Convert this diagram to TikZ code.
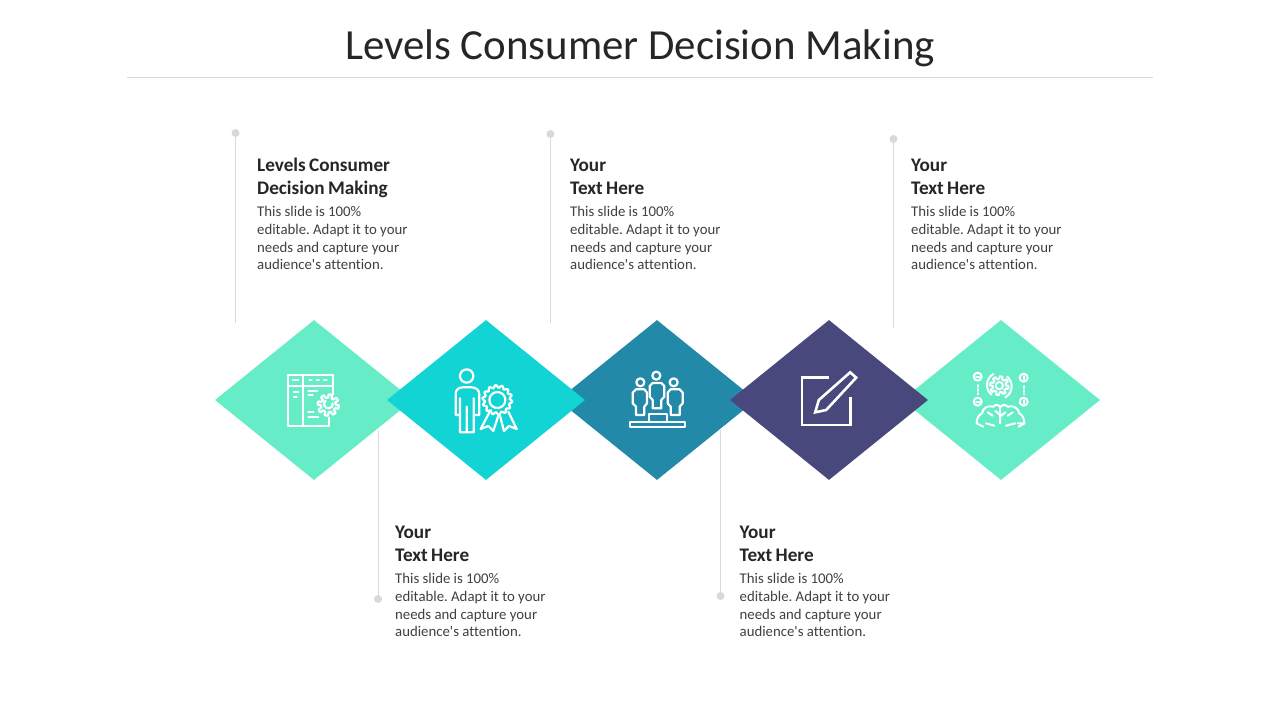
\documentclass[tikz,border=0pt]{standalone}
\usepackage{fontspec}
\setmainfont{Carlito}[Ligatures={TeXOff,CommonOff}]
\usetikzlibrary{shapes.geometric}
\definecolor{mint}{HTML}{66EDC8}
\definecolor{cyanb}{HTML}{12D4D4}
\definecolor{tealb}{HTML}{2389A8}
\definecolor{navyb}{HTML}{48487C}
\definecolor{headc}{HTML}{262626}
\definecolor{bodyc}{HTML}{404040}
\definecolor{linec}{HTML}{D9D9D9}
\newcommand{\blurb}[2]{\frenchspacing{\fontsize{19.2}{23}\selectfont\bfseries\color{headc}\rule{0pt}{14pt}#1\\#2\\[4.3pt]}{\fontsize{14.8}{17.7}\selectfont\color{bodyc}This slide is 100\%\\editable. Adapt it to your\\needs and capture your\\audience's attention.\par}}
\tikzset{
  x=1pt,y=-1pt,
  gem/.style={diamond,fill=#1,draw=none,inner sep=0pt,aspect=1.2375,minimum width=198pt,minimum height=160pt},
  pin/.style={circle,fill=linec,draw=none,inner sep=0pt,minimum size=8pt},
  stem/.style={draw=linec,line width=1pt},
  txt/.style={anchor=north west,align=left,inner sep=0pt,text width=170pt}
}
\begin{document}
\begin{tikzpicture}
\useasboundingbox (0,0) rectangle (1280,720);
\fill[white] (0,0) rectangle (1280,720);
\node[inner sep=0pt,text=headc] (title) at (640,48.5) {\fontsize{42.9}{50}\selectfont Levels Consumer Decision Making};
\coordinate (ruleL) at (127,77.5);
\coordinate (ruleR) at (1153,77.5);
\draw[draw=linec,line width=0.8pt] (ruleL) -- (ruleR);
% connectors
\node[pin] (p1) at (235.5,133) {}; \coordinate (e1) at (235.5,323);
\node[pin] (p2) at (550.5,134) {}; \coordinate (e2) at (550.5,323);
\node[pin] (p3) at (893.5,139) {}; \coordinate (e3) at (893.5,328);
\node[pin] (p4) at (378,599) {}; \coordinate (e4) at (378,430);
\node[pin] (p5) at (720.5,596) {}; \coordinate (e5) at (720.5,430);
\foreach \a/\b in {p1/e1,p2/e2,p3/e3,p4/e4,p5/e5} \draw[stem] (\a) -- (\b);
% diamonds
\node[gem=mint] (d1) at (314,400) {};
\node[gem=tealb] (d3) at (657,400) {};
\node[gem=mint] (d5) at (1001,400) {};
\node[gem=cyanb] (d2) at (486,400) {};
\node[gem=navyb] (d4) at (829,400) {};
% text
\node[txt] (t1) at (257,157.5) {\blurb{Levels Consumer}{Decision Making}};
\node[txt] (t2) at (570,157.5) {\blurb{Your}{Text Here}};
\node[txt] (t3) at (911,157.5) {\blurb{Your}{Text Here}};
\node[txt] (t4) at (395,524.5) {\blurb{Your}{Text Here}};
\node[txt] (t5) at (739.5,524.5) {\blurb{Your}{Text Here}};
% icon 1
\begin{scope}[shift={(270,355)},x=1pt/3,y=-1pt/3,draw=white,line width=2.2pt,line join=round,line cap=round]
\draw (188,118) -- (188,60) -- (55,60) -- (55,213) -- (177,213) -- (177,188);
\draw (100,60) -- (100,213);
\draw (55,93) -- (188,93);
\draw (68,76) -- (85,76) (118,76) -- (125,76) (140,76) -- (147,76) (162,76) -- (170,76);
\draw (72,112) -- (85,112) (72,125) -- (80,125);
\draw (115,108) -- (142,108) (115,120) -- (128,120);
\draw (115,172) -- (130,172) (115,185) -- (145,185);
\draw plot[domain=0:360,samples=145,variable=\t] ({175+(27+5*max(min(3*sin(8*\t),1),-1))*cos(\t)},{150+(27+5*max(min(3*sin(8*\t),1),-1))*sin(\t)}) -- cycle;
\draw (188,145) arc (-10:230:13);
\end{scope}
% icon 2
\begin{scope}[shift={(440,355)},x=1pt/3,y=-1pt/3,draw=white,line width=2.2pt,line join=round,line cap=round]
\draw (80,63) circle (20);
\draw (60,180) -- (47,180) -- (47,118) .. controls (47,105) and (55,97) .. (68,97) -- (94,97) .. controls (108,97) and (118,105) .. (118,118) -- (118,180) -- (101,180) (101,130) -- (101,232) -- (60,232) -- (60,130) (80,155) -- (80,232);
\draw plot[domain=0:360,samples=113,variable=\t] ({172+(41+4*sin(14*\t))*cos(\t)},{135+(41+4*sin(14*\t))*sin(\t)}) -- cycle;
\draw (172,135) circle (24);
\draw (148,172) -- (122,222) -- (145,213) -- (160,228) -- (175,182);
\draw (205,170) -- (230,222) -- (207,213) -- (192,228) -- (180,182);
\end{scope}
% icon 3
\begin{scope}[shift={(612,355)},x=1pt/3,y=-1pt/3,draw=white,line width=2.2pt,line join=round,line cap=round]
\draw (55,200) rectangle (220,216);
\draw (112,200) -- (112,178) -- (165,178) -- (165,200);
\draw (85,82) circle (12);
\draw (133,62) circle (12);
\draw (185,82) circle (12);
\draw (62,113) -- (72,103) -- (97,103) -- (105,113) -- (105,145) -- (97,155) -- (97,180) -- (72,180) -- (72,155) -- (62,145) -- cycle;
\draw (113,93) -- (122,84) -- (148,84) -- (157,93) -- (157,125) -- (148,135) -- (148,160) -- (122,160) -- (122,135) -- (113,125) -- cycle;
\draw (167,113) -- (176,103) -- (203,103) -- (212,113) -- (212,145) -- (203,155) -- (203,180) -- (176,180) -- (176,155) -- (167,145) -- cycle;
\end{scope}
% icon 4
\begin{scope}[shift={(784.5,355)},x=1pt/3,y=-1pt/3,draw=white,line width=2.6pt,line join=miter,line cap=butt]
\draw (133,68) -- (52,68) -- (52,210) -- (198,210) -- (198,125);
\draw (92,172) -- (103,135) -- (197,52) -- (215,68) -- (125,165) -- cycle;
\end{scope}
% icon 5
\begin{scope}[shift={(956,355)},x=1pt/3,y=-1pt/3,draw=white,line width=2pt,line join=round,line cap=round]
\draw plot[domain=0:360,samples=145,variable=\t] ({130+(24+4*max(min(3*sin(8*\t),1),-1))*cos(\t)},{92+(24+4*max(min(3*sin(8*\t),1),-1))*sin(\t)}) -- cycle;
\draw (130,92) circle (11);
\draw (112,57) arc (240:130:38);
\draw (148,127) arc (60:-50:38);
\foreach \cx/\cy in {65/65,65/140,203/68,203/140} \draw (\cx,\cy) circle (12);
\draw (60,65) -- (70,65) (60,140) -- (70,140) (203,63) -- (203,73) (203,135) -- (203,145);
\draw[dotted] (65,90) -- (65,118) (203,93) -- (203,118);
\draw (62,205) .. controls (62,190) and (68,180) .. (78,175) .. controls (80,160) and (95,150) .. (112,155) .. controls (118,148) and (126,148) .. (132,155) .. controls (138,148) and (148,148) .. (155,155) .. controls (172,150) and (188,160) .. (190,175) .. controls (200,180) and (205,192) .. (205,205) -- (185,205);
\draw (62,205) -- (82,215) (132,155) -- (132,205) (132,180) -- (118,168) (132,185) -- (148,172) (205,205) -- (188,215) (90,205) -- (115,212) (150,212) -- (178,205) (95,172) -- (110,182) (170,172) -- (155,182);
\end{scope}
\end{tikzpicture}
\end{document}
